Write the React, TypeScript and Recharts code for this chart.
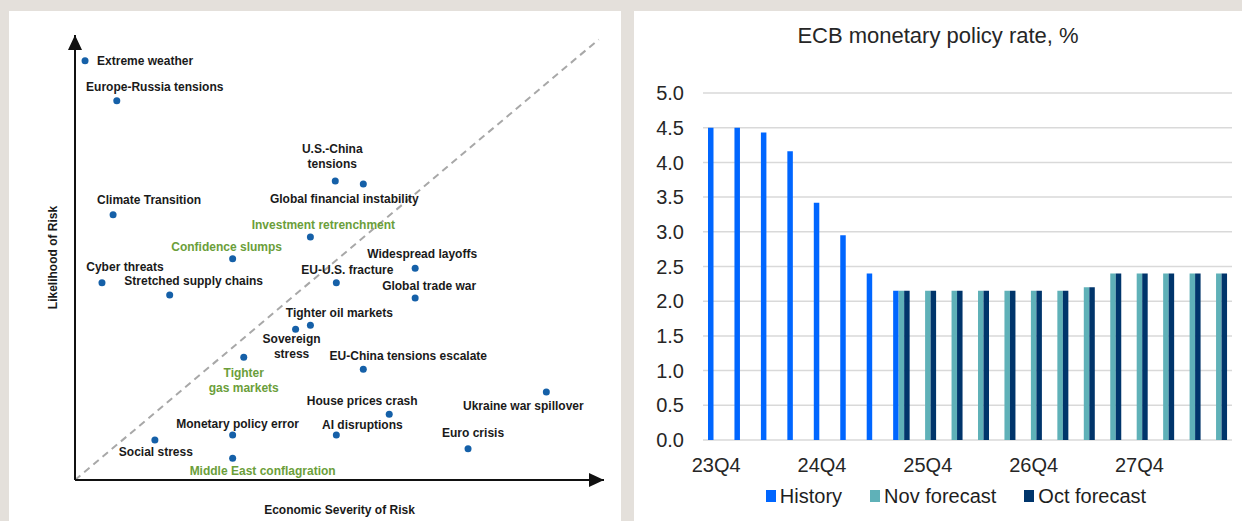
import { ScatterChart, Scatter, XAxis, YAxis, ReferenceLine, ReferenceDot, BarChart, Bar, CartesianGrid, Legend } from 'recharts';

// left panel: risk map
const riskNames = [
  'Extreme weather',
  'Europe-Russia tensions',
  'U.S.-China\ntensions',
  'Global financial instability',
  'Climate Transition',
  'Investment retrenchment',
  'Confidence slumps',
  'Widespread layoffs',
  'Cyber threats',
  'Stretched supply chains',
  'EU-U.S. fracture',
  'Global trade war',
  'Tighter oil markets',
  'Sovereign\nstress',
  'Tighter\ngas markets',
  'EU-China tensions escalate',
  'Ukraine war spillover',
  'House prices crash',
  'Monetary policy error',
  'AI disruptions',
  'Euro crisis',
  'Social stress',
  'Middle East conflagration',
];
const severity = [1.9, 7.9, 49.2, 54.5, 7.2, 44.5, 29.8, 64.3, 5.1, 17.9, 49.4, 64.3, 44.5, 41.7, 31.9, 54.5, 89.1, 59.4, 29.8, 49.4, 74.3, 15.1, 29.8];
const likelihood = [94.2, 85.2, 67.2, 66.5, 59.6, 54.6, 49.7, 47.6, 44.3, 41.6, 44.3, 40.9, 34.8, 33.9, 27.6, 24.9, 19.8, 14.8, 10.1, 10.1, 7.0, 9.0, 4.9];
const emergingRisks = ['Investment retrenchment', 'Confidence slumps', 'Tighter\ngas markets', 'Middle East conflagration'];

// right panel: ECB rate
const quarters = ['23Q4', '24Q1', '24Q2', '24Q3', '24Q4', '25Q1', '25Q2', '25Q3', '25Q4', '26Q1', '26Q2', '26Q3', '26Q4', '27Q1', '27Q2', '27Q3', '27Q4', '28Q1', '28Q2', '28Q3'];
const history = [4.5, 4.5, 4.43, 4.16, 3.42, 2.95, 2.4, 2.15, null, null, null, null, null, null, null, null, null, null, null, null];
const novForecast = [null, null, null, null, null, null, null, 2.15, 2.15, 2.15, 2.15, 2.15, 2.15, 2.15, 2.2, 2.4, 2.4, 2.4, 2.4, 2.4];
const octForecast = [null, null, null, null, null, null, null, 2.15, 2.15, 2.15, 2.15, 2.15, 2.15, 2.15, 2.2, 2.4, 2.4, 2.4, 2.4, 2.4];
const rateTicks = [0, 0.5, 1, 1.5, 2, 2.5, 3, 3.5, 4, 4.5, 5];

// label offsets from the dot (dx, dy of first line centre)
const labelSpot: Record<string, [number, number, string?]> = {
  'Extreme weather': [12, 0, 'start'],
  'Europe-Russia tensions': [38, -14],
  'U.S.-China\ntensions': [-3, -32],
  'Global financial instability': [-19, 15],
  'Climate Transition': [36, -15],
  'Investment retrenchment': [13, -12],
  'Confidence slumps': [-6, -12],
  'Widespread layoffs': [7, -14],
  'Cyber threats': [23, -16],
  'Stretched supply chains': [24, -14],
  'EU-U.S. fracture': [11, -13],
  'Global trade war': [14, -12],
  'Tighter oil markets': [29, -12],
  'Sovereign\nstress': [-4, 10],
  'Tighter\ngas markets': [0, 16],
  'EU-China tensions escalate': [45, -13],
  'Ukraine war spillover': [-23, 14],
  'House prices crash': [-27, -13],
  'Monetary policy error': [5, -11],
  'AI disruptions': [26, -10],
  'Euro crisis': [5, -16],
  'Social stress': [1, 12],
  'Middle East conflagration': [30, 13],
};

const riskData = riskNames.map((name, i) => ({ name, x: severity[i], y: likelihood[i] }));
const rateData = quarters.map((q, i) => ({ q, history: history[i], nov: novForecast[i], oct: octForecast[i] }));

const mapFont = '"Liberation Sans", Arial, sans-serif';
const chartFont = '"Liberation Sans", Arial, sans-serif';
const mapText = { fontFamily: mapFont, fontWeight: 'bold', fontSize: 12, fill: '#1a1a1a' };

const RiskDot = (props: any) => {
  const { cx, cy, payload } = props;
  const [dx, dy, anchor] = labelSpot[payload.name] || [0, -12];
  const lines = payload.name.split('\n');
  const color = emergingRisks.includes(payload.name) ? '#6b9e3a' : '#1a1a1a';
  return (
    <g>
      <circle cx={cx} cy={cy} r={3.5} fill="#1560a8" />
      <text
        x={cx + dx}
        y={cy + dy}
        textAnchor={anchor || 'middle'}
        dominantBaseline="central"
        fontFamily={mapFont}
        fontWeight="bold"
        fontSize={12}
        fill={color}
      >
        {lines.map((l: string, i: number) => (
          <tspan key={i} x={cx + dx} dy={i === 0 ? 0 : 15}>{l}</tspan>
        ))}
      </text>
    </g>
  );
};

const ArrowRight = ({ cx, cy }: any) => (
  <path d={`M${cx},${cy} L${cx - 15},${cy - 7} L${cx - 15},${cy + 7} Z`} fill="#111" />
);
const ArrowUp = ({ cx, cy }: any) => (
  <path d={`M${cx},${cy} L${cx - 7},${cy + 15} L${cx + 7},${cy + 15} Z`} fill="#111" />
);

const legendItems = [
  { label: 'History', color: '#0066ff' },
  { label: 'Nov forecast', color: '#5fb1b8' },
  { label: 'Oct forecast', color: '#00356b' },
];

const renderLegend = () => (
  <div
    style={{
      display: 'flex',
      justifyContent: 'center',
      alignItems: 'center',
      height: 50,
      paddingLeft: 36,
      boxSizing: 'border-box',
      fontFamily: chartFont,
      fontSize: 20,
      color: '#1e1e1e',
    }}
  >
    {legendItems.map((it, i) => (
      <div key={it.label} style={{ display: 'flex', alignItems: 'center', marginRight: i < legendItems.length - 1 ? 28 : 0 }}>
        <span style={{ display: 'inline-block', width: 10, height: 12, background: it.color, marginRight: 4 }} />
        <span>{it.label}</span>
      </div>
    ))}
  </div>
);

export default function App() {
  return (
    <div style={{ position: 'fixed', left: 0, top: 0, width: 1242, height: 521, background: '#e4e0db', overflow: 'hidden' }}>
      <div style={{ position: 'absolute', left: 9, top: 11, width: 612, height: 510, background: '#fff' }}>
        <ScatterChart width={612} height={510} margin={{ top: 24, right: 17, bottom: 40, left: 65 }}>
          <XAxis
            type="number"
            dataKey="x"
            domain={[0, 100]}
            allowDataOverflow
            height={1}
            tick={false}
            tickLine={false}
            axisLine={false}
            label={{ value: 'Economic Severity of Risk', position: 'bottom', offset: 24, style: mapText }}
          />
          <YAxis
            type="number"
            dataKey="y"
            domain={[0, 100]}
            allowDataOverflow
            width={1}
            tick={false}
            tickLine={false}
            axisLine={false}
            label={{ value: 'Likelihood of Risk', angle: -90, position: 'left', offset: 21, style: { ...mapText, textAnchor: 'middle' } }}
          />
          <ReferenceLine segment={[{ x: 0, y: 0 }, { x: 99, y: 99 }]} stroke="#a8a8a8" strokeWidth={2} strokeDasharray="7 5" />
          <ReferenceLine y={0} stroke="#111" strokeWidth={2} />
          <ReferenceLine x={0} stroke="#111" strokeWidth={2} />
          <ReferenceDot x={100} y={0} shape={ArrowRight} />
          <ReferenceDot x={0} y={100} shape={ArrowUp} />
          <Scatter data={riskData} shape={RiskDot} isAnimationActive={false} />
        </ScatterChart>
      </div>

      <div style={{ position: 'absolute', left: 634, top: 11, width: 608, height: 510, background: '#fff' }}>
        <div
          style={{
            position: 'absolute',
            top: 14,
            left: 0,
            width: 608,
            textAlign: 'center',
            fontFamily: chartFont,
            fontSize: 22,
            lineHeight: '22px',
            color: '#262626',
          }}
        >
          ECB monetary policy rate, %
        </div>
        <BarChart width={608} height={510} data={rateData} margin={{ top: 82, right: 10, bottom: 0, left: 0 }} barGap={0} barSize={5.5}>
          <CartesianGrid vertical={false} stroke="#d9d9d9" strokeWidth={1.5} />
          <XAxis
            dataKey="q"
            interval={3}
            height={31}
            axisLine={false}
            tickLine={false}
            tickSize={0}
            tickMargin={18}
            tick={{ fontSize: 20, fill: '#262626', fontFamily: chartFont }}
          />
          <YAxis
            domain={[0, 5]}
            ticks={rateTicks}
            tickFormatter={(v: number) => v.toFixed(1)}
            width={69}
            axisLine={false}
            tickLine={false}
            tickSize={0}
            tickMargin={19}
            tick={{ fontSize: 20, fill: '#262626', fontFamily: chartFont }}
          />
          <Bar dataKey="history" fill="#0066ff" isAnimationActive={false} />
          <Bar dataKey="nov" fill="#5fb1b8" isAnimationActive={false} />
          <Bar dataKey="oct" fill="#00356b" isAnimationActive={false} />
          <Legend verticalAlign="bottom" height={50} content={renderLegend} wrapperStyle={{ left: 0, width: 608 }} />
        </BarChart>
      </div>
    </div>
  );
}
